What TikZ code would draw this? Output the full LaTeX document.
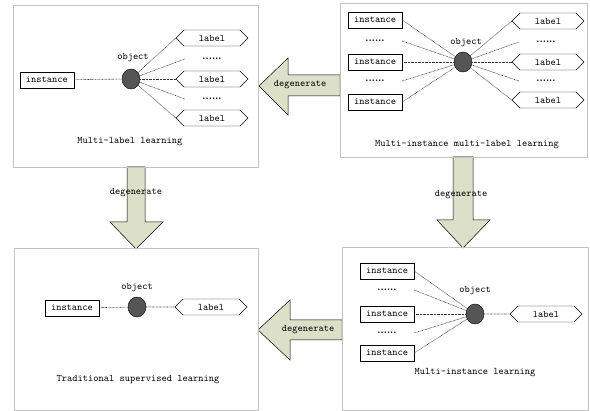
\documentclass[tikz,border=0pt]{standalone}
\usetikzlibrary{shapes.geometric,shapes.symbols}
\definecolor{arrowfill}{RGB}{221,224,200}
\definecolor{objgray}{RGB}{85,85,85}
\definecolor{framegray}{RGB}{195,195,195}

\begin{document}
\begin{tikzpicture}[x=1pt,y=-1pt,
  every node/.style={font=\fontsize{10}{12}\selectfont\ttfamily},
  inst/.style={draw,rectangle,minimum width=54pt,minimum height=16pt,inner sep=0pt},
  lab/.style={draw,signal,signal to=east and west,minimum width=72pt,minimum height=16pt,inner sep=0pt},
  obj/.style={draw,ellipse,fill=objgray,minimum width=18pt,minimum height=20pt,inner sep=0pt},
  more/.style={minimum width=54pt,inner sep=0pt,font=\fontsize{10}{10}\selectfont\bfseries},
  link/.style={line width=0.6pt,dash pattern=on 0.7pt off 0.7pt,draw=black!80},
  frame/.style={draw=framegray,line width=0.5pt},
  bigarrow/.style={draw=black,fill=arrowfill,line width=0.5pt}]
\useasboundingbox (0,0) rectangle (590,411);

% degenerate arrows
\draw[bigarrow] (340,75) -- (288,75) -- (288,58) -- (259,86) -- (288,115) -- (288,96) -- (340,96) -- cycle;
\draw[bigarrow] (342,320) -- (290,320) -- (290,300) -- (258,330) -- (290,360) -- (290,340) -- (342,340) -- cycle;
\draw[bigarrow] (127,167) -- (127,222) -- (110,222) -- (136,249) -- (163,222) -- (145,222) -- (145,167) -- cycle;
\draw[bigarrow] (453,157) -- (453,220) -- (437,220) -- (463,248) -- (490,220) -- (473,220) -- (473,157) -- cycle;
\node (dg1) at (300,85) {degenerate};
\node (dg2) at (308,330) {degenerate};
\node (dg3) at (136,193) {degenerate};
\node (dg4) at (461,195) {degenerate};

% frames
\draw[frame] (13,5) rectangle (258,167);
\draw[frame] (340,3) rectangle (587,157);
\draw[frame] (14,248) rectangle (258,410);
\draw[frame] (342,247) rectangle (588,410);

% multi-label
\node[inst] (a-in) at (47,80) {instance};
\node[obj] (a-ob) at (131,79) {};
\node (a-ot) at (133,58) {object};
\node[lab] (a-l1) at (212,38) {label};
\node[more] (a-d1) at (212,59) {......};
\node[lab] (a-l2) at (212,79) {label};
\node[more] (a-d2) at (212,99) {......};
\node[lab] (a-l3) at (212,118) {label};
\node (a-ti) at (130,142) {Multi-label learning};
\draw[link] (a-in) -- (a-ob);
\foreach \n in {a-l1,a-d1,a-l2,a-d2,a-l3}
  \draw[link] (a-ob) -- (\n.west);

% multi-instance multi-label
\node[inst] (b-i1) at (375,20) {instance};
\node[more] (b-d1) at (375,41) {......};
\node[inst] (b-i2) at (375,62) {instance};
\node[more] (b-d2) at (375,81) {......};
\node[inst] (b-i3) at (375,102) {instance};
\node[obj] (b-ob) at (463,62) {};
\node (b-ot) at (466,43) {object};
\node[lab] (b-l1) at (548,21) {label};
\node[more] (b-d3) at (546,42) {......};
\node[lab] (b-l2) at (548,62) {label};
\node[more] (b-d4) at (546,81) {......};
\node[lab] (b-l3) at (548,100) {label};
\node (b-ti) at (467,145) {Multi-instance multi-label learning};
\foreach \n in {b-i1,b-d1,b-i2,b-d2,b-i3}
  \draw[link] (\n.east) -- (b-ob);
\foreach \n in {b-l1,b-d3,b-l2,b-d4,b-l3}
  \draw[link] (b-ob) -- (\n.west);

% traditional
\node[inst] (c-in) at (72,308) {instance};
\node[obj] (c-ob) at (137,307) {};
\node (c-ot) at (137,288) {object};
\node[lab] (c-la) at (211,307) {label};
\node (c-ti) at (138,380) {Traditional supervised learning};
\draw[link] (c-in) -- (c-ob);
\draw[link] (c-ob) -- (c-la);

% multi-instance
\node[inst] (d-i1) at (387,271) {instance};
\node[more] (d-d1) at (387,290) {......};
\node[inst] (d-i2) at (387,314) {instance};
\node[more] (d-d2) at (387,333) {......};
\node[inst] (d-i3) at (387,353) {instance};
\node[obj] (d-ob) at (475,314) {};
\node (d-ot) at (475,291) {object};
\node[lab] (d-la) at (546,314) {label};
\node (d-ti) at (475,373) {Multi-instance learning};
\foreach \n in {d-i1,d-d1,d-i2,d-d2,d-i3}
  \draw[link] (\n.east) -- (d-ob);
\draw[link] (d-ob) -- (d-la);
\end{tikzpicture}
\end{document}
